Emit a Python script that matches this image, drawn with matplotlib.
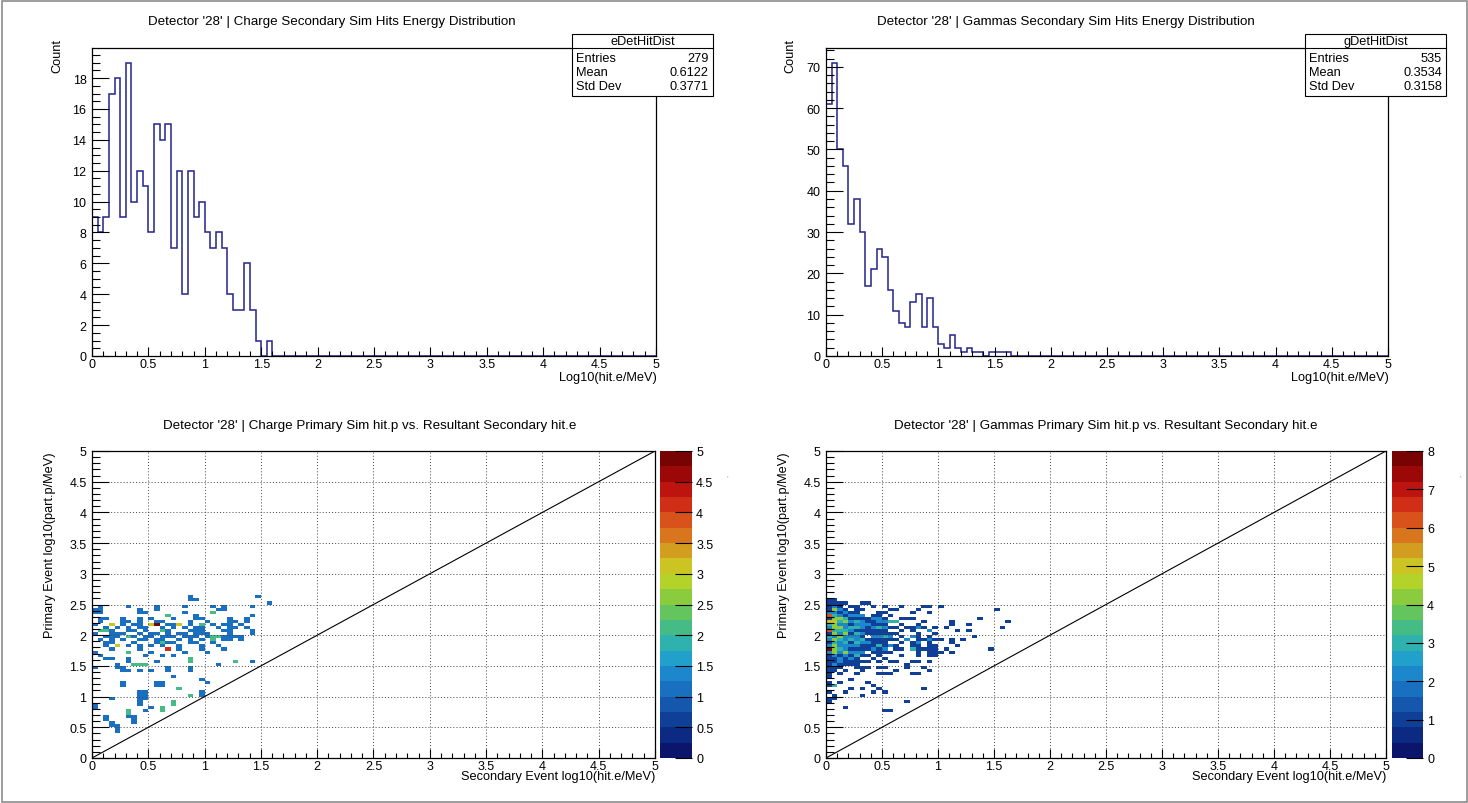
import numpy as np
import matplotlib
matplotlib.use("Agg")
import matplotlib.pyplot as plt
from matplotlib.colors import ListedColormap, BoundaryNorm
from matplotlib.patches import Rectangle
from matplotlib.ticker import MultipleLocator, FuncFormatter

plt.rcParams["font.family"] = ["Liberation Sans", "DejaVu Sans"]

W, H = 1468, 804
NBINS = 100
E_LO, E_HI = 0.0, 5.0

# --- 1D hit energy spectra, counts per 0.05 bin starting at 0 ---
chg_counts = [9, 8, 9, 17, 18, 9, 19, 10, 12, 11,
              8, 15, 14, 15, 7, 12, 4, 12, 9, 10,
              8, 7, 8, 7, 4, 3, 3, 6, 3, 1,
              0, 1]
gam_counts = [61, 71, 50, 46, 32, 38, 30, 17, 21, 26,
              24, 16, 11, 8, 7, 13, 15, 7, 14, 7,
              3, 2, 5, 2, 1, 2, 1, 1, 0, 1,
              1, 1, 1]

chg_name, chg_mean, chg_std = "eDetHitDist", "0.6122", "0.3771"
gam_name, gam_mean, gam_std = "gDetHitDist", "0.3534", "0.3158"

# --- 2D primary p vs secondary e, one row per 0.05 bin in y ---
# first row is the bin starting at *_top_y, rows go downwards;
# columns are 0.05 bins in x starting at 0, '.' = empty
chg_top_y = 2.60
chg_rows = [
    "..... ..... ..... ..1.. ..... ....1 ..",
    "..... ..... ..... ..11. ..... ..... ..",
    "..... ..... ..... ..... ..... ..... .1",
    ".1... .1... .1... .1... .1.1. ...1. ..",
    "11... ...1. .1... ..... ..11. ..... ..",
    "11... ...11 ..... .1... .2... ..... ..",
    "..... ..... ...2. ...1. ..... ...1. ..",
    ".11.. 1..1. 1...1 ...11 ....1 ..1.. ..",
    ".1... 11.1. .11.. ..1.. 1...1 1.1.. ..",
    "1..3. 1.11. 35.11 3.1.2 .1.11 .1... ..",
    "..1.1 .1.11 ..1.1 .1.11 ..1.1 1.1.. ..",
    ".221. .11.1 ..21. ..111 ...11 ...1. ..",
    "1..11 1..1. 11.1. 11.11 1...1 ...1. ..",
    "..111 .21.1 1.111 .111. 12211 11... ..",
    ".1.1. 1..11 .11.. 1.1.1 .2.11 .1... ..",
    "..11. ..1.. .1211 ..11. .1... ..... ..",
    "..1.3 .1.1. 1.1.. 1...1 ..1.. ..... ..",
    "...1. ...1. ...4. 1...1 ...1. ..... ..",
    "1.... .2... 1.... .1... 1.... ..... ..",
    ".1... ....1 ..1.1 ..... ..... ..... ..",
    "..11. .1... ..... ..2.. ..... ..... ..",
    "..... .1... .1... ..2.. ..... 2..1. ..",
    "....1 ..222 ..... ..... ..1.. ..... ..",
    "1...1 1.... ...1. ..1.. ..... ..... ..",
    "..... 11.1. 1..1. ..1.. ..... ..... ..",
    "..... ..... ..... ..... ..... ..... ..",
    "..... ..... ....1 ..... ..... ..... ..",
    "..... ..... ..... ....1 ..... ..... ..",
    "..... 1.... .11.. ..... 1.... ..... ..",
    "..... 1.... .11.. ..... ..... ..... ..",
    "..... ..... ..... 2.... ..... ..... ..",
    "..... ...11 ..... ....1 ..... ..... ..",
    "..... ...11 ..... ..2.1 ..... ..... ..",
    "...1. ...11 ..... ..... ..... ..... ..",
    "..... ...1. ....2 ..... ..... ..... ..",
    "1.... ...1. ....2 ..... ..... ..... ..",
    "1.... ..... 1.2.. ..... ..... ..... ..",
    "..... .2..1 ..2.. ..... ..... ..... ..",
    "..... .2... ..... ..... ..... ..... ..",
    "..1.. .11.. ..... ..... ..... ..... ..",
    "..1.. ..1.. ..... ..... ..... ..... ..",
    "...1. ..1.. ..... ..... ..... ..... ..",
    "...11 ..... ..... ..... ..... ..... ..",
    "....1 ..... ..... ..... ..... ..... ..",
    "....1 ..... ..... ..... ..... ..... ..",
]

gam_top_y = 2.55
gam_rows = [
    "11... ..... ..... ..... ..... ..... ...",
    "1111. .11.. ..... ..... ..... ..... ...",
    "121.1 1..1. 1..1. ..11. 1.... ..... ...",
    "1421. 11... .11.. .1... ..... ..... 1..",
    "22121 1...1 1.... 1..1. ..... ..... ...",
    "63212 22.11 .1... ..... ..... ..... ...",
    "14431 11122 1..11 1.... ..... ..1.. ...",
    "55342 32112 233.. ..1.. ..1.. ..... ..1",
    "34221 22211 1..1. .1... ..1.. 1.... ...",
    "24423 32123 211.1 121.1 .1... ..... .1.",
    "63332 11111 1..1. 1..2. ...1. 1.... ...",
    "14241 32111 111.. .1..1 ..... ..... ...",
    "32422 21.22 32.1. 21.1. ..... .1... ...",
    "24323 23111 111.2 .1121 1.1.1 ..... ...",
    "13231 32211 1..1. 12.1. ..1.. ..... ...",
    "24222 21113 121.. 11.11 ...1. ..... ...",
    "84321 11121 2.11. 31111 .1... ....1 ...",
    "24242 22.11 11... .1.11 1.1.. ..... ...",
    "12121 311.1 ...1. .1.11 ..... ..... ...",
    "11212 1..1. 1.... ..... ..... ..... ...",
    "11211 111.1 .11.. 11.1. ..... ..... ...",
    "12111 1.... ....1 ..... ..... ..... ...",
    "111.. 111.1 1...1 ..1.. ..... ..... ...",
    "11.1. .1... ..1.. ...1. ..... ..... ...",
    "1.1.. 1...1 11... 11... ..... ..... ...",
    "1.... ..... ..... ..... ..... ..... ...",
    "....1 ..... ..... ..... ..... ..... ...",
    "1.1.. ..1.. ..... ..... ..... ..... ...",
    "13... ...1. ..... ..... ..... ..... ...",
    "....1 .1..1 ..... ..1.. ..... ..... ...",
    "1..1. ...1. 1.... ..... ..... ..... ...",
    ".1... .1... ..... ..... ..... ..... ...",
    "11... ..... ..... ..... ..... ..... ...",
    "1.... ..... ....1 ..... ..... ..... ...",
    "..... ..... ..... ..... ..... ..... ...",
    "...1. ..... ..... ..... ..... ..... ...",
    "..... ..... 11... ..... ..... ..... ...",
]
chg_zmax, gam_zmax = 5, 8
chg_z_ticks = [0, 0.5, 1, 1.5, 2, 2.5, 3, 3.5, 4, 4.5, 5]
gam_z_ticks = [0, 1, 2, 3, 4, 5, 6, 7, 8]

# rainbow palette, 20 contour levels, low -> high
palette = ["#0b156b", "#0d2a82", "#103f97", "#1457ad", "#196fc0",
           "#1c87cd", "#22a0cc", "#2fb1ae", "#45bb86", "#64c45e",
           "#8bcc3e", "#b3d22a", "#cbc423", "#d39d20", "#d9761d",
           "#d9521b", "#d02e17", "#bd1410", "#9c0808", "#780303"]

LINE = "#23238e"
TICK_FS = 9
LS = 9.2
TS = 9.6
edges = np.linspace(E_LO, E_HI, NBINS + 1)
bin_w = edges[1] - edges[0]
fmt = FuncFormatter(lambda v, p: f"{v:g}")


def px_rect(x0, y0, x1, y1):
    return [x0 / W, 1 - y1 / H, (x1 - x0) / W, (y1 - y0) / H]


def rows_to_counts(rows, top_y):
    counts = np.zeros((NBINS, NBINS))
    top = int(round(top_y / bin_w))
    for i, row in enumerate(rows):
        for j, ch in enumerate(row.replace(" ", "")):
            if ch != ".":
                counts[top - i, j] = int(ch)
    return counts


def root_axes(ax, ymajor, yminor):
    for s in ax.spines.values():
        s.set_linewidth(0.9)
        s.set_color("black")
    ax.xaxis.set_major_locator(MultipleLocator(0.5))
    ax.xaxis.set_minor_locator(MultipleLocator(0.1))
    ax.yaxis.set_major_locator(MultipleLocator(ymajor))
    ax.yaxis.set_minor_locator(MultipleLocator(yminor))
    ax.xaxis.set_major_formatter(fmt)
    ax.yaxis.set_major_formatter(fmt)
    ax.tick_params(axis="x", which="major", direction="in", length=6.5, width=0.8,
                   labelsize=TICK_FS, pad=1.5, top=False)
    ax.tick_params(axis="x", which="minor", direction="in", length=3.3, width=0.8, top=False)
    ax.tick_params(axis="y", which="major", direction="in", length=12, width=0.8,
                   labelsize=TICK_FS, pad=4, right=False)
    ax.tick_params(axis="y", which="minor", direction="in", length=6, width=0.8, right=False)


def draw_hist(rect, counts, ymajor, yminor):
    ax = fig.add_axes(px_rect(*rect))
    vals = np.zeros(NBINS)
    vals[:len(counts)] = counts
    ax.stairs(vals, edges, color=LINE, lw=1.1)
    ax.set_xlim(E_LO, E_HI)
    ax.set_ylim(0, 1.05 * vals.max())
    root_axes(ax, ymajor, yminor)
    return ax, vals


def draw_map(rect, cbar_rect, rows, top_y, zmax, zticks):
    ax = fig.add_axes(px_rect(*rect))
    counts = rows_to_counts(rows, top_y)
    cmap = ListedColormap(palette)
    levels = np.round(np.linspace(0, zmax, len(palette) + 1), 6)
    norm = BoundaryNorm(levels, cmap.N, clip=True)
    mesh = ax.pcolormesh(edges, edges, np.ma.masked_equal(counts, 0),
                         cmap=cmap, norm=norm)
    ax.plot([E_LO, E_HI], [E_LO, E_HI], color="black", lw=0.8)
    ax.set_xlim(E_LO, E_HI)
    ax.set_ylim(E_LO, E_HI)
    ax.grid(True, which="major", color="#444444", lw=0.7, linestyle=(0, (1, 2.2)))
    root_axes(ax, 0.5, 0.1)
    cax = fig.add_axes(px_rect(*cbar_rect))
    cb = fig.colorbar(mesh, cax=cax, ticks=zticks)
    cb.outline.set_visible(False)
    cax.yaxis.set_major_formatter(fmt)
    cax.tick_params(direction="in", length=12, width=0.8, labelsize=TICK_FS, pad=3)
    cax.minorticks_off()
    return ax


fig = plt.figure(figsize=(W / 100, H / 100), dpi=100)
fig.patch.set_facecolor("white")

_, chg_vals = draw_hist((92, 49, 656, 357), chg_counts, 2, 0.5)
_, gam_vals = draw_hist((826, 49, 1388, 357), gam_counts, 10, 2)
draw_map((92, 452, 655, 759), (660, 452, 692, 759), chg_rows, chg_top_y,
         chg_zmax, chg_z_ticks)
draw_map((826, 452, 1386, 759), (1392, 452, 1423, 759), gam_rows, gam_top_y,
         gam_zmax, gam_z_ticks)

# overlay in pixel coordinates for titles, stats boxes and axis titles
ov = fig.add_axes([0, 0, 1, 1])
ov.set_xlim(0, W)
ov.set_ylim(H, 0)
ov.axis("off")
ov.set_zorder(10)
ov.patch.set_alpha(0)

ov.add_patch(Rectangle((1.5, 1.5), W - 3, H - 3, fill=False, ec="#8c8c8c", lw=1.2))

ov.text(332, 22, "Detector '28' | Charge Secondary Sim Hits Energy Distribution",
        ha="center", va="center", fontsize=TS)
ov.text(1066, 22, "Detector '28' | Gammas Secondary Sim Hits Energy Distribution",
        ha="center", va="center", fontsize=TS)
ov.text(370, 426, "Detector '28' | Charge Primary Sim hit.p vs. Resultant Secondary hit.e",
        ha="center", va="center", fontsize=TS)
ov.text(1106, 426, "Detector '28' | Gammas Primary Sim hit.p vs. Resultant Secondary hit.e",
        ha="center", va="center", fontsize=TS)

for x in (57, 790):
    ov.text(x, 39, "Count", rotation=90, ha="center", va="top", fontsize=LS)
for x in (657, 1389):
    ov.text(x, 378, "Log10(hit.e/MeV)", ha="right", va="center", fontsize=LS)
for x in (50, 784):
    ov.text(x, 452, "Primary Event log10(part.p/MeV)", rotation=90,
            ha="center", va="top", fontsize=LS)
for x in (655, 1386):
    ov.text(x, 777, "Secondary Event log10(hit.e/MeV)", ha="right", va="center",
            fontsize=LS)
for x in (727, 1460):
    ov.text(x, 479, "'", ha="center", va="center", fontsize=6, color="#9a9a9a")


def stats_box(x0, name, vals, mean, std):
    x1, y0, y1 = x0 + 141, 35, 97
    ov.add_patch(Rectangle((x0, y0), x1 - x0, y1 - y0, fc="white", ec="black", lw=0.8))
    ov.plot([x0, x1], [49, 49], color="black", lw=0.8)
    ov.text((x0 + x1) / 2, 42, name, ha="center", va="center", fontsize=LS)
    rows = [("Entries", f"{int(vals.sum())}"), ("Mean", mean), ("Std Dev", std)]
    for i, (lbl, v) in enumerate(rows):
        y = 59.5 + 13.5 * i
        ov.text(x0 + 4, y, lbl, ha="left", va="center", fontsize=LS)
        ov.text(x1 - 4, y, v, ha="right", va="center", fontsize=LS)


stats_box(572, chg_name, chg_vals, chg_mean, chg_std)
stats_box(1305, gam_name, gam_vals, gam_mean, gam_std)

fig.savefig("out.png", dpi=100, facecolor="white")
